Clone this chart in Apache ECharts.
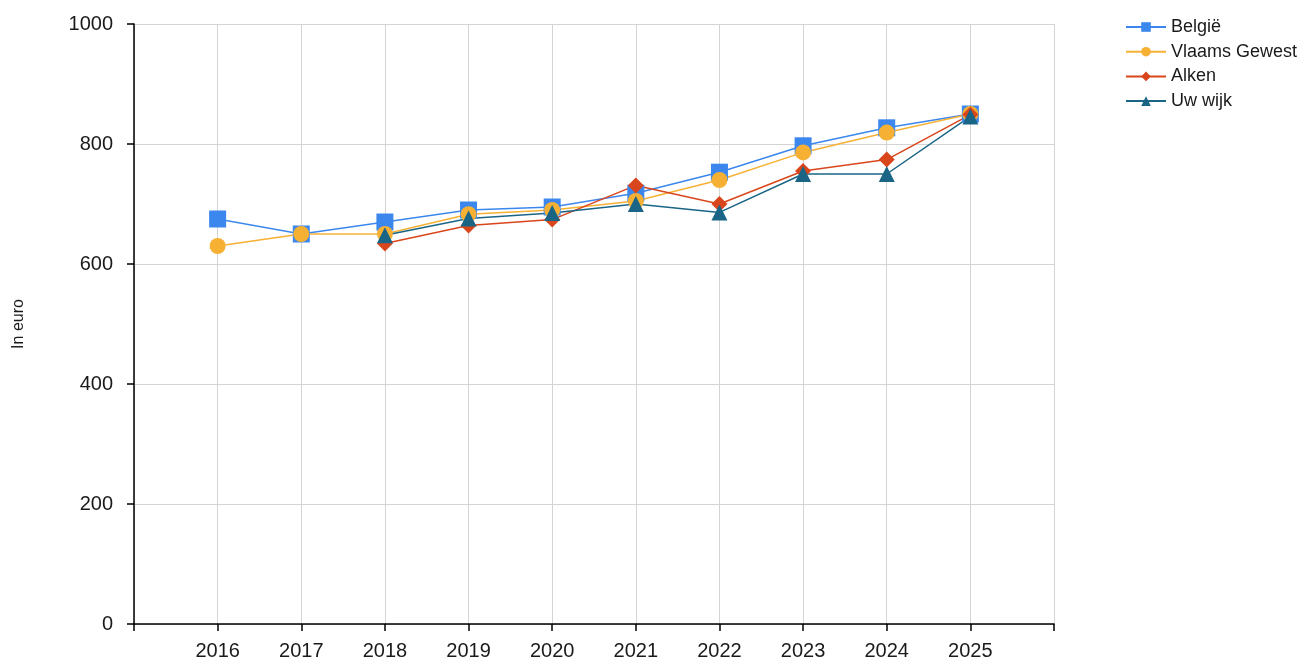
<!DOCTYPE html>
<html>
<head>
<meta charset="utf-8">
<script src="https://cdn.jsdelivr.net/npm/echarts@6/dist/echarts.min.js"></script>
<style>
html,body{margin:0;padding:0;background:#fff;}
#chart{width:1313px;height:662px;}
</style>
</head>
<body>
<div id="chart"></div>
<script>
const years = [2016, 2017, 2018, 2019, 2020, 2021, 2022, 2023, 2024, 2025];
const belgie = [675, 650, 670, 690, 695, 718, 753, 797, 827, 850];
const vlaamsGewest = [630, 650, 650, 683, 690, 705, 740, 786, 819, 850];
const alken = [null, null, 634, 664, 674, 731, 700, 755, 774, 849];
const uwWijk = [null, null, 648, 676, 685, 700, 686, 750, 750, 846];
const yTicks = [0, 200, 400, 600, 800, 1000];

function pairs(arr) {
  return years.map((y, i) => [y, arr[i]]).filter(p => p[1] !== null);
}

const chart = echarts.init(document.getElementById('chart'), null, {renderer: 'canvas'});
const font = 'Liberation Sans, Arial, sans-serif';
function mk(name, data, color, symbol, size) {
  return {
    name: name,
    type: 'line',
    data: pairs(data),
    symbol: symbol,
    symbolSize: size,
    color: color,
    lineStyle: {width: 1.5, color: color},
    itemStyle: {color: color},
    animation: false
  };
}
chart.setOption({
  animation: false,
  textStyle: {fontFamily: font},
  grid: {left: 134, right: 259, top: 24, bottom: 38, containLabel: false},
  legend: {
    orient: 'vertical',
    left: 1120,
    top: 13,
    itemWidth: 40,
    itemHeight: 12,
    itemGap: 6.7,
    textStyle: {fontSize: 18, color: '#1a1a1a', fontFamily: font, lineHeight: 18},
    data: ['België', 'Vlaams Gewest', 'Alken', 'Uw wijk']
  },
  xAxis: {
    type: 'value',
    min: 2015,
    max: 2026,
    interval: 1,
    axisLine: {show: true, onZero: false, lineStyle: {color: '#000', width: 1.5}},
    axisTick: {show: true, length: 7, lineStyle: {color: '#000', width: 1.5}},
    axisLabel: {
      fontSize: 20, color: '#1a1a1a', margin: 17,
      formatter: v => years.indexOf(v) >= 0 ? String(v) : ''
    },
    splitLine: {show: true, lineStyle: {color: '#d4d4d4', width: 1}}
  },
  yAxis: {
    type: 'value',
    min: yTicks[0],
    max: yTicks[yTicks.length - 1],
    interval: 200,
    name: 'In euro',
    nameLocation: 'middle',
    nameRotate: 90,
    nameGap: 107,
    nameTextStyle: {fontSize: 16, color: '#1a1a1a'},
    axisLine: {show: true, lineStyle: {color: '#000', width: 1.5}},
    axisTick: {show: true, length: 7, lineStyle: {color: '#000', width: 1.5}},
    axisLabel: {fontSize: 20, color: '#1a1a1a', margin: 21, formatter: v => String(v)},
    splitLine: {show: true, lineStyle: {color: '#d4d4d4', width: 1}}
  },
  series: [
    mk('België', belgie, '#3b87ee', 'rect', 17),
    mk('Vlaams Gewest', vlaamsGewest, '#f6b135', 'circle', 16),
    mk('Alken', alken, '#d9461b', 'diamond', 16),
    mk('Uw wijk', uwWijk, '#1a6586', 'triangle', 16)
  ]
});
</script>
</body>
</html>
